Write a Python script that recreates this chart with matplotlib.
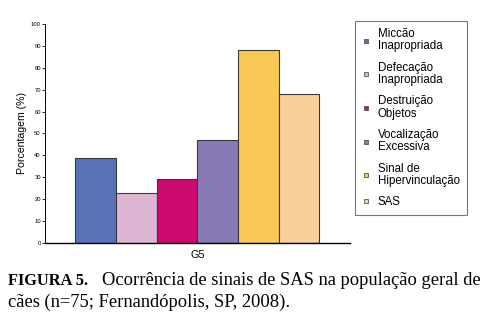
import matplotlib
matplotlib.use("Agg")
import matplotlib.pyplot as plt
from matplotlib.lines import Line2D

plt.rcParams['font.family'] = ['Liberation Sans', 'DejaVu Sans']

# dados do gráfico (G5)
grupo = 'G5'
sinais = ['Miccão\nInapropriada', 'Defecação\nInapropriada', 'Destruição\nObjetos',
          'Vocalização\nExcessiva', 'Sinal de\nHipervinculação', 'SAS']
porcentagem = [39, 23, 29, 47, 88, 68]
cores = ['#5874b6', '#dcb6d4', '#cd0a6f', '#887ab5', '#fac955', '#f7d09b']
yticks = list(range(0, 101, 10))

fig = plt.figure(figsize=(4.97, 3.23), dpi=100)
ax = fig.add_axes([0.0905, 0.2477, 0.6135, 0.678])

for i, (v, c) in enumerate(zip(porcentagem, cores)):
    ax.bar(i, v, width=1.0, color=c, edgecolor='#3a3a3a', linewidth=0.8)

ax.set_xlim(-1.25, 6.25)
ax.set_ylim(0, 100)
ax.set_yticks(yticks)
ax.tick_params(axis='y', labelsize=4.2, length=2, width=0.6, pad=1)
ax.set_xticks([])
ax.spines['top'].set_visible(False)
ax.spines['right'].set_visible(False)
ax.spines['left'].set_linewidth(0.7)
ax.spines['bottom'].set_linewidth(1.0)
ax.set_ylabel('Porcentagem (%)', fontsize=7.6, labelpad=3)
ax.set_xlabel(grupo, fontsize=7.8, labelpad=5)

handles = [Line2D([], [], linestyle='none', marker='s', markersize=3,
                  markerfacecolor=c, markeredgecolor='#555555', markeredgewidth=0.6)
           for c in cores]
leg = fig.legend(handles, sinais, loc='upper left', bbox_to_anchor=(0.714, 0.935),
                 fontsize=8.3, frameon=True, fancybox=False, handlelength=0.8,
                 handletextpad=0.6, labelspacing=0.8, borderpad=0.6,
                 borderaxespad=0)
leg.get_frame().set_edgecolor('#555555')
leg.get_frame().set_linewidth(0.8)
for t in leg.get_texts():
    t.set_linespacing(1.05)

# legenda da figura
fig.text(0.016, 0.118, 'FIGURA 5.', fontfamily='Liberation Serif', fontweight='bold',
         fontsize=11.8, va='baseline')
fig.text(0.205, 0.118, 'Ocorrência de sinais de SAS na população geral de',
         fontfamily='Liberation Serif', fontsize=13.3, va='baseline')
fig.text(0.016, 0.0495, 'cães (n=75; Fernandópolis, SP, 2008).',
         fontfamily='Liberation Serif', fontsize=13.3, va='baseline')

fig.savefig('out.png', dpi=100)
